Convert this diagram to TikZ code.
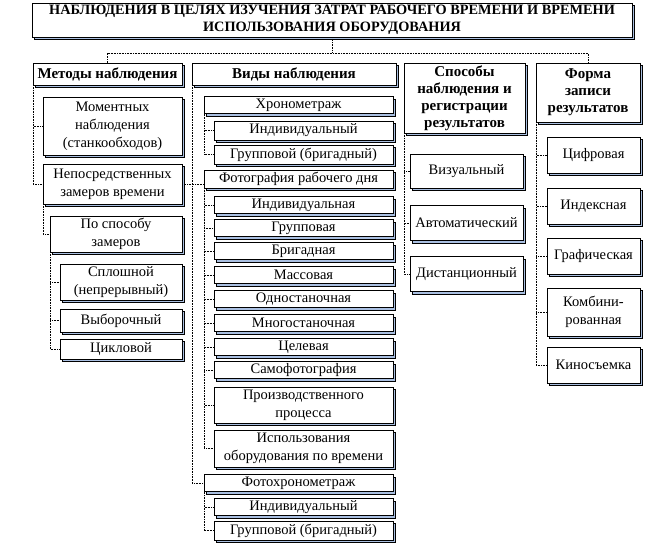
\documentclass[tikz,border=0pt]{standalone}
\usepackage{fontspec}
\setmainfont{Liberation Serif}
\usepackage{xcolor}
\usetikzlibrary{shadows}
\definecolor{shadowblue}{RGB}{170,192,226}

\tikzset{
  box/.style={draw, fill=white, align=center, inner sep=0.5pt,
    font=\fontsize{14.5}{18}\selectfont,
    drop shadow={shadow xshift=2.5pt, shadow yshift=-2.5pt, fill=shadowblue, draw=black, opacity=1}},
  head/.style={box, font=\fontsize{15}{17}\selectfont\bfseries},
  link/.style={densely dotted, line width=0.6pt}
}

\begin{document}
\begin{tikzpicture}[x=1pt, y=-1pt]
\useasboundingbox (0,0) rectangle (645,548);

% title and column heads
\node[head, font=\fontsize{14.3}{16.5}\selectfont\bfseries, minimum width=600, minimum height=34] (title) at (332,20) {НАБЛЮДЕНИЯ В ЦЕЛЯХ ИЗУЧЕНИЯ ЗАТРАТ РАБОЧЕГО ВРЕМЕНИ И ВРЕМЕНИ\\ИСПОЛЬЗОВАНИЯ ОБОРУДОВАНИЯ};
\node[head, minimum width=149, minimum height=22] (metody) at (107.5,74) {Методы наблюдения};
\node[head, minimum width=204, minimum height=22] (vidy) at (294,74) {Виды наблюдения};
\node[head, minimum width=121, minimum height=70] (sposoby) at (464.5,98) {Способы\\наблюдения и\\регистрации\\результатов};
\node[head, minimum width=104, minimum height=59] (forma) at (588,92.5) {Форма\\записи\\результатов};

% methods
\node[box, minimum width=139, minimum height=58] (moment) at (112.5,126) {Моментных\\наблюдения\\(станкообходов)};
\node[box, minimum width=139, minimum height=40] (neposr) at (112.5,184) {Непосредственных\\замеров времени};
\node[box, minimum width=132, minimum height=36] (zamer) at (116,234) {По способу\\замеров};
\node[box, minimum width=122, minimum height=36] (splosh) at (121,282) {Сплошной\\(непрерывный)};
\node[box, minimum width=122, minimum height=23] (vybor) at (121,320.5) {Выборочный};
\node[box, minimum width=122, minimum height=20] (cikl) at (121,349) {Цикловой};

% kinds
\node[box, minimum width=189, minimum height=17] (chron) at (298.5,105) {Хронометраж};
\node[box, minimum width=179, minimum height=19] (chind) at (303.5,130.5) {Индивидуальный};
\node[box, minimum width=179, minimum height=19] (chgrp) at (303.5,154.5) {Групповой (бригадный)};
\node[box, minimum width=189, minimum height=18] (foto) at (298.5,179) {Фотография рабочего дня};
\node[box, minimum width=179, minimum height=17] (f1) at (303.5,205) {Индивидуальная};
\node[box, minimum width=179, minimum height=17] (f2) at (303.5,228) {Групповая};
\node[box, minimum width=179, minimum height=17] (f3) at (303.5,251) {Бригадная};
\node[box, minimum width=179, minimum height=17] (f4) at (303.5,275) {Массовая};
\node[box, minimum width=179, minimum height=17] (f5) at (303.5,299) {Одностаночная};
\node[box, minimum width=179, minimum height=17] (f6) at (303.5,323) {Многостаночная};
\node[box, minimum width=179, minimum height=17] (f7) at (303.5,347) {Целевая};
\node[box, minimum width=179, minimum height=17] (f8) at (303.5,370) {Самофотография};
\node[box, minimum width=179, minimum height=36] (f9) at (303.5,405) {Производственного\\процесса};
\node[box, minimum width=179, minimum height=37] (f10) at (303.5,448.5) {Использования\\оборудования по времени};
\node[box, minimum width=189, minimum height=17] (fchron) at (298.5,483) {Фотохронометраж};
\node[box, minimum width=179, minimum height=17] (fcind) at (303.5,507) {Индивидуальный};
\node[box, minimum width=179, minimum height=19] (fcgrp) at (303.5,530.5) {Групповой (бригадный)};

% ways of observation
\node[box, minimum width=113, minimum height=34] (vis) at (466.5,171) {Визуальный};
\node[box, minimum width=113, minimum height=35] (avto) at (466.5,223) {Автоматический};
\node[box, minimum width=113, minimum height=35] (dist) at (466.5,274) {Дистанционный};

% record forms
\node[box, minimum width=93, minimum height=36] (cifr) at (593.5,155) {Цифровая};
\node[box, minimum width=93, minimum height=36] (indx) at (593.5,206) {Индексная};
\node[box, minimum width=93, minimum height=36] (graf) at (593.5,256) {Графическая};
\node[box, minimum width=93, minimum height=48] (komb) at (593.5,312) {Комбини-\\рованная};
\node[box, minimum width=93, minimum height=36] (kino) at (593.5,365) {Киносъемка};

% connectors
\draw[link] (title.south) -- (title.south |- 0,53);
\draw[link] (metody.north) -- (metody.north |- 0,53) -| (forma.north);

\draw[link] (metody.south west) |- (moment.west);
\draw[link] (metody.south west) |- (neposr.west);
\draw[link] (neposr.south west) |- (zamer.west);
\foreach \n in {splosh, vybor, cikl}
  \draw[link] (zamer.south west) |- (\n.west);

\draw[link] (vidy.south west) |- (fchron.west);
\draw[link] (neposr.east) -- (neposr.east -| foto.west);
\foreach \n in {chind, chgrp}
  \draw[link] (chron.south west) |- (\n.west);
\foreach \n in {f1, f2, f3, f4, f5, f6, f7, f8, f9, f10}
  \draw[link] (foto.south west) |- (\n.west);
\foreach \n in {fcind, fcgrp}
  \draw[link] (fchron.south west) |- (\n.west);

\foreach \n in {vis, avto, dist}
  \draw[link] (sposoby.south west) |- (\n.west);
\foreach \n in {cifr, indx, graf, komb, kino}
  \draw[link] (forma.south west) |- (\n.west);
\end{tikzpicture}
\end{document}
